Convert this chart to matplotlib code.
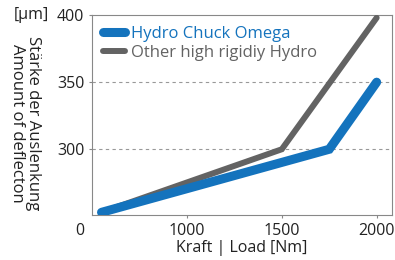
import matplotlib.pyplot as plt

plt.rcParams['font.family'] = ['Open Sans', 'DejaVu Sans']

# data
last_omega = [550, 1750, 2000]
werte_omega = [253, 300, 350]
last_andere = [550, 1500, 2000]
werte_andere = [253, 300, 398]

namen = ['Hydro Chuck Omega', 'Other high rigidiy Hydro']
farben = ['#1473bd', '#636363']

x_ticks = [1000, 1500, 2000]
y_ticks = [300, 350, 400]

fig = plt.figure(figsize=(3.95, 2.6), dpi=100)
ax = fig.add_axes([0.233, 0.173, 0.759, 0.769])

ax.plot(last_andere, werte_andere, color=farben[1], linewidth=4.3,
        solid_capstyle='round', solid_joinstyle='miter', label=namen[1], zorder=3)
ax.plot(last_omega, werte_omega, color=farben[0], linewidth=6.5,
        solid_capstyle='round', solid_joinstyle='miter', label=namen[0], zorder=4)

ax.set_xlim(500, 2080)
ax.set_ylim(251, 400)
ax.set_xticks(x_ticks)
ax.set_yticks(y_ticks)
ax.tick_params(labelsize=11.5, length=2.5, color='#888888', colors='#222222', pad=3)
for s in ax.spines.values():
    s.set_color('#888888')
    s.set_linewidth(0.8)
for y in [300, 350]:
    ax.axhline(y, color='#999999', linestyle=(0, (3, 3)), linewidth=0.8, zorder=1)

ax.set_xlabel('Kraft | Load [Nm]', fontsize=11.5, color='#222222', labelpad=1)
fig.text(0.063, 0.525, 'Stärke der Auslenkung\nAmount of deflecton', rotation=270,
         ha='center', va='center', fontsize=12, color='#222222', linespacing=1.05)
fig.text(0.035, 0.942, '[µm]', ha='left', va='center', fontsize=11.5, color='#222222')
fig.text(0.203, 0.112, '0', ha='center', va='center', fontsize=11.5, color='#222222')

handles, labels = ax.get_legend_handles_labels()
leg = ax.legend(handles[::-1], labels[::-1], loc='upper left', frameon=False, fontsize=12,
                handlelength=1.3, handletextpad=0.4, labelspacing=0.2,
                borderaxespad=0.25, bbox_to_anchor=(0.0, 1.0))
for txt, c in zip(leg.get_texts(), farben):
    txt.set_color(c)

fig.savefig('out.png', dpi=100)
